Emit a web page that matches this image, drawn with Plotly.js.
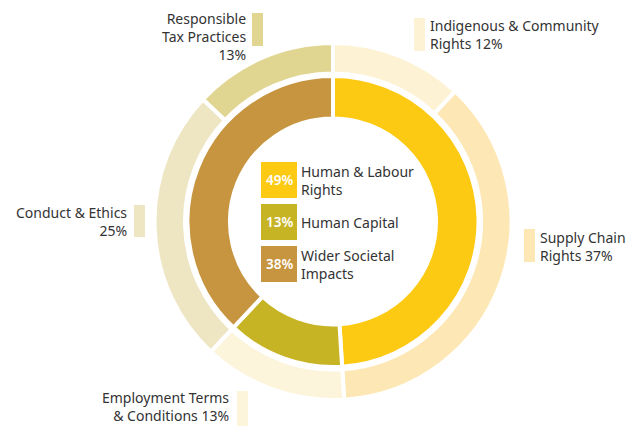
<!DOCTYPE html>
<html>
<head>
<meta charset="utf-8">
<script src="https://cdn.plot.ly/plotly-3.0.1.min.js"></script>
<style>html,body{margin:0;padding:0;background:#fff;}#chart{width:637px;height:426px;}</style>
</head>
<body>
<div id="chart"></div>
<script>
// ---- data ----
const innerCategories = ["Human & Labour<br>Rights", "Human Capital", "Wider Societal<br>Impacts"];
const innerValues = [49, 13, 38];
const innerColors = ["#FCC913", "#C6B424", "#C7943F"];

const outerCategories = ["Indigenous & Community<br>Rights", "Supply Chain<br>Rights", "Employment Terms<br>& Conditions", "Conduct & Ethics", "Responsible<br>Tax Practices"];
const outerValues = [12, 37, 13, 25, 13];
const outerColors = ["#FDF2D3", "#FDE8B5", "#FDF4DC", "#EEE5C3", "#E1D592"];

// ---- layout helpers (pixel -> paper) ----
const W = 637, H = 426;
const px = x => x / W;
const py = y => 1 - y / H;
const cx = 333, cy = 221.5, lw = 4;
function dom(r) {
  return { x: [px(cx - r), px(cx + r)], y: [py(cy + r), py(cy - r)] };
}
const outerR = 176.5 + lw / 2, outerHole = (150 - lw / 2) / outerR;
const innerR = 143.5 + lw / 2, innerHole = (105 - lw / 2) / innerR;

const font = "Noto Sans, Open Sans, sans-serif";
const txtColor = "#333333";
const fs = 14;

const traces = [
  {
    type: "pie", values: outerValues, labels: outerCategories, sort: false,
    direction: "clockwise", rotation: 0, hole: outerHole, domain: dom(outerR),
    marker: { colors: outerColors, line: { color: "#ffffff", width: lw } },
    textinfo: "none", hoverinfo: "none", showlegend: false
  },
  {
    type: "pie", values: innerValues, labels: innerCategories, sort: false,
    direction: "clockwise", rotation: 0, hole: innerHole, domain: dom(innerR),
    marker: { colors: innerColors, line: { color: "#ffffff", width: lw } },
    textinfo: "none", hoverinfo: "none", showlegend: false
  }
];

// outer label placements
const outerPlace = [
  { x: 429, y: 34, side: "left", sep: " ", bx: 414, by0: 18, by1: 51 },
  { x: 539, y: 246, side: "left", sep: " ", bx: 524, by0: 229, by1: 262 },
  { x: 230, y: 406, side: "right", sep: " ", bx: 237, by0: 391, by1: 430 },
  { x: 128, y: 221, side: "right", sep: "<br>", bx: 134, by0: 205, by1: 237 },
  { x: 247, y: 36.5, side: "right", sep: "<br>", bx: 252, by0: 13, by1: 46 }
];

const annotations = [];
const shapes = [];
outerCategories.forEach((c, i) => {
  const p = outerPlace[i];
  annotations.push({
    xref: "paper", yref: "paper", x: px(p.x), y: py(p.y),
    xanchor: p.side === "left" ? "left" : "right", yanchor: "middle",
    align: p.side, showarrow: false, borderpad: 0,
    text: c + p.sep + outerValues[i] + "%",
    font: { family: font, size: fs, color: txtColor }
  });
  shapes.push({
    type: "rect", xref: "paper", yref: "paper",
    x0: px(p.bx), x1: px(p.bx + 11), y0: py(p.by1), y1: py(p.by0),
    fillcolor: outerColors[i], line: { width: 0 }, layer: "above"
  });
});

const innerBoxY = [162, 204, 246];
innerCategories.forEach((c, i) => {
  const y0 = innerBoxY[i], y1 = y0 + 36;
  shapes.push({
    type: "rect", xref: "paper", yref: "paper",
    x0: px(261), x1: px(297), y0: py(y1), y1: py(y0),
    fillcolor: innerColors[i], line: { width: 0 }, layer: "above"
  });
  annotations.push({
    xref: "paper", yref: "paper", x: px(279), y: py((y0 + y1) / 2),
    xanchor: "center", yanchor: "middle", showarrow: false,
    text: innerValues[i] + "%",
    font: { family: font, size: 13.5, color: "#ffffff", weight: 600 }
  });
  annotations.push({
    xref: "paper", yref: "paper", x: px(299), y: py((y0 + y1) / 2),
    xanchor: "left", yanchor: "middle", align: "left", showarrow: false,
    text: c,
    font: { family: font, size: fs, color: txtColor }
  });
});

const layout = {
  width: W, height: H,
  margin: { l: 0, r: 0, t: 0, b: 0 },
  paper_bgcolor: "#ffffff", plot_bgcolor: "#ffffff",
  showlegend: false,
  annotations: annotations, shapes: shapes
};

Plotly.newPlot("chart", traces, layout, { displayModeBar: false, staticPlot: true });
</script>
</body>
</html>
